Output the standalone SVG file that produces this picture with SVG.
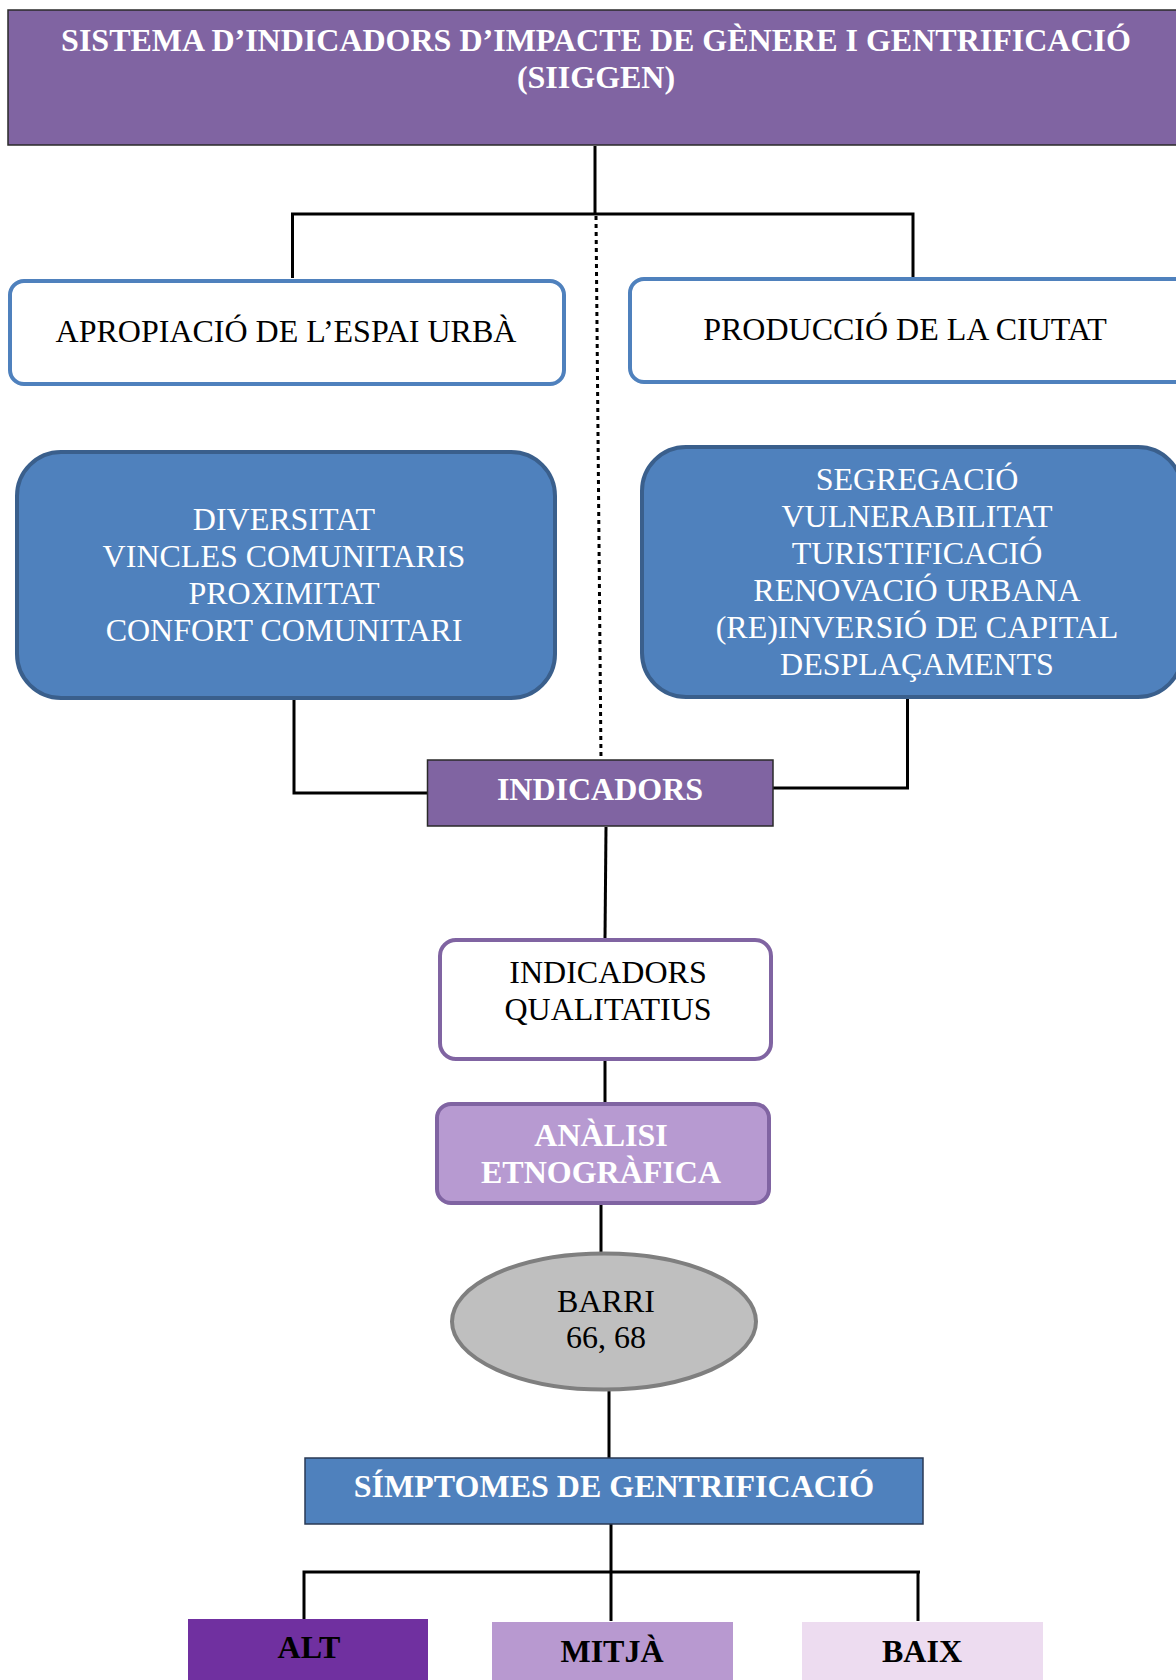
<svg xmlns="http://www.w3.org/2000/svg" width="1176" height="1680" viewBox="0 0 1176 1680">
<style>
text{font-family:"Liberation Serif","Times New Roman",serif;font-size:32px;text-anchor:middle}
.b{font-weight:bold}
.w{fill:#ffffff}
.k{fill:#000000}
.ln{stroke:#000;stroke-width:3;fill:none}
.dot{stroke:#000;stroke-width:3;stroke-dasharray:4 4;fill:none}
</style>
<rect width="1176" height="1680" fill="#ffffff"/>
<g id="connectors">
<path class="ln" d="M595 146 V215"/>
<path class="ln" d="M292.5 278 V214 H913 V278" stroke-width="3.5"/>
<path class="dot" d="M596 216 L601 760"/>
<path class="ln" d="M294 699 V793 H428"/>
<path class="ln" d="M907.5 698 V788 H773"/>
<path class="ln" d="M606 827 L605 938"/>
<path class="ln" d="M605 1060 V1102"/>
<path class="ln" d="M601 1204 V1253"/>
<path class="ln" d="M609 1390 V1458"/>
<path class="ln" d="M611 1524 V1621"/>
<path class="ln" d="M304 1619 V1572 H920 M918 1572 V1621" stroke-width="3.5"/>
</g>
<g id="title">
<rect x="8" y="10" width="1172" height="135" fill="#8064A2" stroke="#2a2a2a" stroke-width="1.5"/>
<text class="b w" x="596" y="51">SISTEMA D’INDICADORS D’IMPACTE DE GÈNERE I GENTRIFICACIÓ</text>
<text class="b w" x="596" y="88">(SIIGGEN)</text>
</g>
<g id="apropiacio">
<rect x="10" y="281" width="554" height="103" rx="14" fill="#ffffff" stroke="#4F81BD" stroke-width="4"/>
<text class="k" x="286" y="342">APROPIACIÓ DE L’ESPAI URBÀ</text>
</g>
<g id="produccio">
<rect x="630" y="279" width="560" height="103" rx="14" fill="#ffffff" stroke="#4F81BD" stroke-width="4"/>
<text class="k" x="905" y="340">PRODUCCIÓ DE LA CIUTAT</text>
</g>
<g id="apropiacio-items">
<rect x="17" y="452" width="538" height="246" rx="44" fill="#4F81BD" stroke="#3A5F8C" stroke-width="4"/>
<text class="w" x="284" y="530">DIVERSITAT</text>
<text class="w" x="284" y="567">VINCLES COMUNITARIS</text>
<text class="w" x="284" y="604">PROXIMITAT</text>
<text class="w" x="284" y="641">CONFORT COMUNITARI</text>
</g>
<g id="produccio-items">
<rect x="642" y="447" width="540" height="250" rx="44" fill="#4F81BD" stroke="#3A5F8C" stroke-width="4"/>
<text class="w" x="917" y="490">SEGREGACIÓ</text>
<text class="w" x="917" y="527">VULNERABILITAT</text>
<text class="w" x="917" y="564">TURISTIFICACIÓ</text>
<text class="w" x="917" y="601">RENOVACIÓ URBANA</text>
<text class="w" x="917" y="638">(RE)INVERSIÓ DE CAPITAL</text>
<text class="w" x="917" y="675">DESPLAÇAMENTS</text>
</g>
<g id="indicadors">
<rect x="427.5" y="760" width="345.5" height="66" fill="#8064A2" stroke="#2a2a2a" stroke-width="1.5"/>
<text class="b w" x="600" y="800">INDICADORS</text>
</g>
<g id="qualitatius">
<rect x="440" y="940" width="331" height="119" rx="16" fill="#ffffff" stroke="#8064A2" stroke-width="4"/>
<text class="k" x="608" y="983">INDICADORS</text>
<text class="k" x="608" y="1020">QUALITATIUS</text>
</g>
<g id="etnografica">
<rect x="437" y="1104" width="332" height="99" rx="14" fill="#B79AD1" stroke="#8064A2" stroke-width="4"/>
<text class="b w" x="601" y="1146">ANÀLISI</text>
<text class="b w" x="601" y="1183">ETNOGRÀFICA</text>
</g>
<g id="barri">
<ellipse cx="604" cy="1321.5" rx="152" ry="68" fill="#BFBFBF" stroke="#7F7F7F" stroke-width="4"/>
<text class="k" x="606" y="1312">BARRI</text>
<text class="k" x="606" y="1348">66, 68</text>
</g>
<g id="simptomes">
<rect x="305" y="1458" width="618" height="66" fill="#4F81BD" stroke="#2a3a55" stroke-width="1.5"/>
<text class="b w" x="614" y="1497">SÍMPTOMES DE GENTRIFICACIÓ</text>
</g>
<g id="alt">
<rect x="188" y="1619" width="240" height="61" fill="#7030A0"/>
<text class="b k" x="309" y="1658">ALT</text>
</g>
<g id="mitja">
<rect x="492" y="1622" width="241" height="58" fill="#B899D0"/>
<text class="b k" x="612" y="1662">MITJÀ</text>
</g>
<g id="baix">
<rect x="802" y="1622" width="241" height="58" fill="#EDDCF0"/>
<text class="b k" x="922" y="1662">BAIX</text>
</g>
</svg>
